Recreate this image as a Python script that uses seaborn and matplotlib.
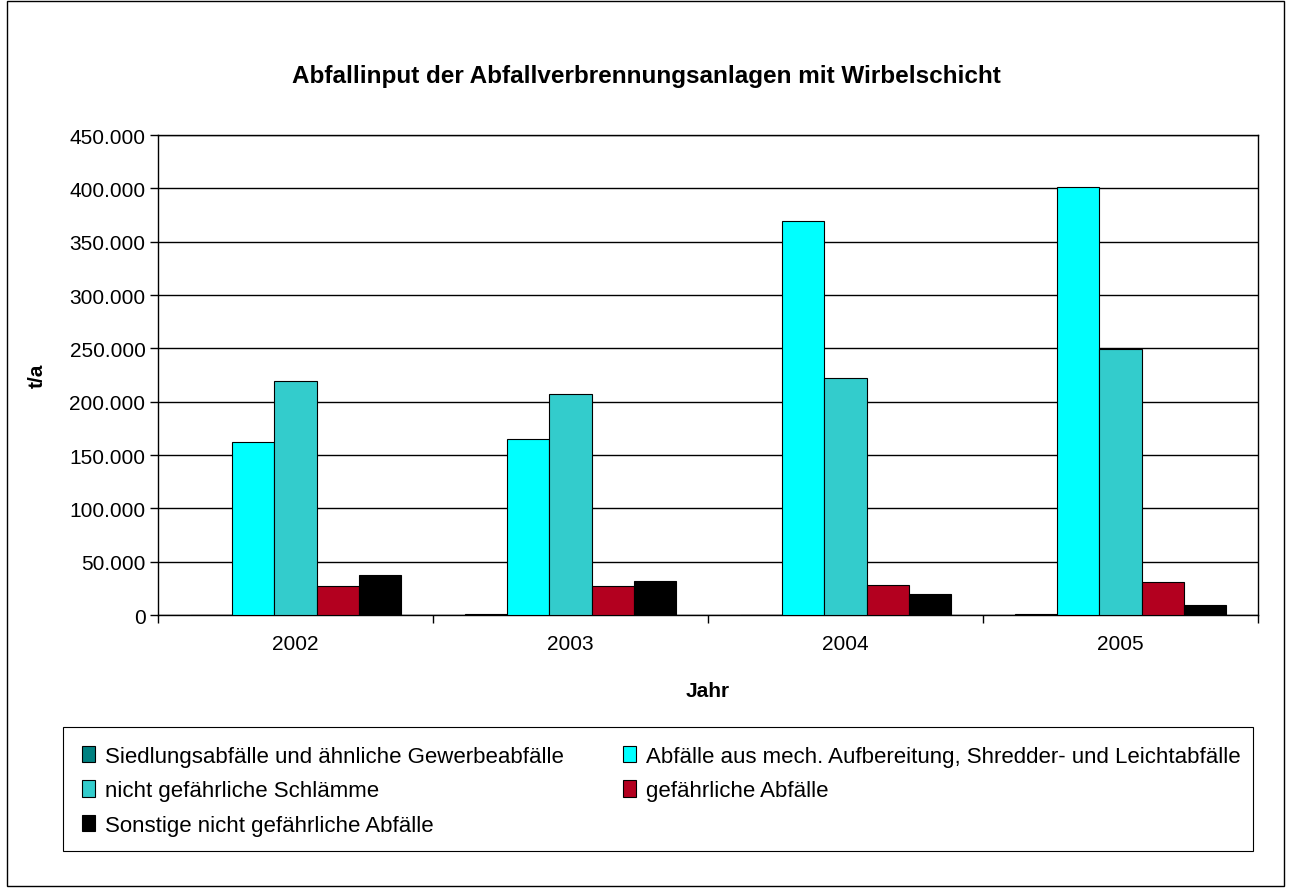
import pandas as pd
import matplotlib
matplotlib.use("Agg")
import matplotlib.pyplot as plt
import matplotlib.ticker as mticker
from matplotlib.patches import Rectangle
import seaborn as sns

years = ["2002", "2003", "2004", "2005"]
siedlung = [200, 900, 200, 700]
mech = [162000, 165000, 369000, 400800]
schlaemme = [219800, 207300, 222000, 249500]
gefaehrlich = [27000, 26800, 28100, 30600]
sonstige = [37100, 31800, 19900, 9100]

labels = [
    "Siedlungsabfälle und ähnliche Gewerbeabfälle",
    "Abfälle aus mech. Aufbereitung, Shredder- und Leichtabfälle",
    "nicht gefährliche Schlämme",
    "gefährliche Abfälle",
    "Sonstige nicht gefährliche Abfälle",
]
colors = ["#008080", "#00FFFF", "#33CCCC", "#B3001F", "#000000"]

rows = []
for lab, vals in zip(labels, [siedlung, mech, schlaemme, gefaehrlich, sonstige]):
    for y, v in zip(years, vals):
        rows.append({"Jahr": y, "Art": lab, "t/a": v})
df = pd.DataFrame(rows)

sns.set_style("white")
plt.rcParams["font.family"] = ["Liberation Sans", "DejaVu Sans"]
for k in ["text.color", "axes.labelcolor", "xtick.color", "ytick.color"]:
    plt.rcParams[k] = "black"

fig = plt.figure(figsize=(12.92, 8.95), dpi=100)
ax = fig.add_axes([158 / 1292, 1 - 616 / 895, 1100 / 1292, 480 / 895])

sns.barplot(data=df, x="Jahr", y="t/a", hue="Art", hue_order=labels,
            palette=colors, width=0.77, gap=0, edgecolor="black",
            linewidth=0.8, saturation=1, ax=ax, zorder=3, legend=True)

ax.set_ylim(0, 450000)
ax.set_xlim(-0.5, 3.5)
ax.yaxis.set_major_locator(mticker.MultipleLocator(50000))
ax.yaxis.set_major_formatter(mticker.FuncFormatter(lambda v, p: f"{int(v):,}".replace(",", ".")))
ax.grid(axis="y", color="black", linewidth=1, zorder=0)
ax.set_axisbelow(True)

ax.set_xticks([0, 1, 2, 3])
ax.set_xticks([-0.5, 0.5, 1.5, 2.5, 3.5], minor=True)
ax.tick_params(axis="x", which="major", length=0, labelsize=15, pad=14)
ax.tick_params(axis="x", which="minor", length=6, width=1, color="black", direction="out")
ax.tick_params(axis="y", length=6, width=1, color="black", direction="out", labelsize=15, pad=3)
ax.tick_params(left=True, bottom=True, which="both")
for s in ax.spines.values():
    s.set_color("black")
    s.set_linewidth(1)

ax.set_xlabel("Jahr", fontsize=15, fontweight="bold", labelpad=20)
ax.set_ylabel("t/a", fontsize=15, fontweight="bold", labelpad=16)
fig.suptitle("Abfallinput der Abfallverbrennungsanlagen mit Wirbelschicht",
             x=0.5, y=1 - 76 / 895, va="center", fontsize=17.5, fontweight="bold")

handles, labs = ax.get_legend_handles_labels()
ax.get_legend().remove()
order = [0, 2, 4, 1, 3]
leg = fig.legend([handles[i] for i in order], [labs[i] for i in order],
                 loc="upper left", bbox_to_anchor=(82 / 1292, 1 - 747 / 895),
                 ncol=2, fontsize=16, frameon=False,
                 handlelength=0.6, handleheight=0.75,
                 handletextpad=0.45, labelspacing=0.6, columnspacing=2.65,
                 borderpad=0, borderaxespad=0)

fig.patches.append(Rectangle((63 / 1292, 1 - 852 / 895), 1190 / 1292, 124 / 895,
                             transform=fig.transFigure, fill=False,
                             edgecolor="black", linewidth=0.8))
fig.patches.append(Rectangle((7 / 1292, 1 - 887 / 895), 1277 / 1292, 885 / 895,
                             transform=fig.transFigure, fill=False,
                             edgecolor="black", linewidth=1))

fig.savefig("out.png", dpi=100)
